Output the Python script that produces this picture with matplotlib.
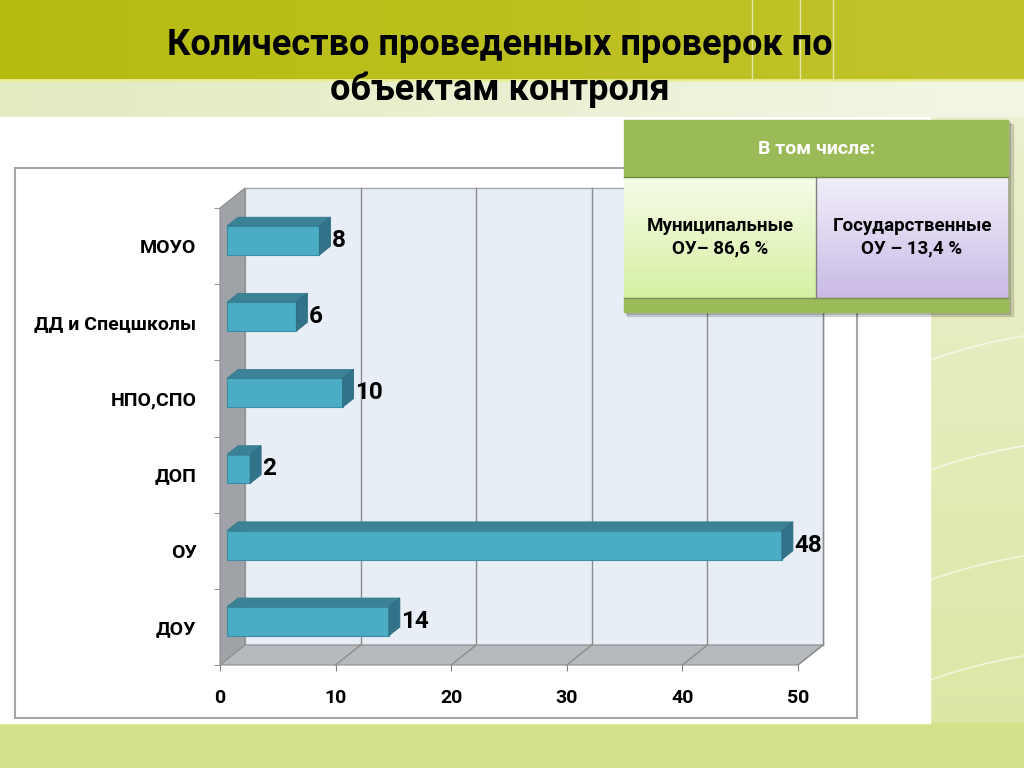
import numpy as np
import matplotlib.pyplot as plt
from matplotlib.patches import Polygon, Rectangle
from matplotlib.colors import to_rgb

# Данные
categories = ['ДОУ', 'ОУ', 'ДОП', 'НПО,СПО', 'ДД и Спецшколы', 'МОУО']
values = [14, 48, 2, 10, 6, 8]
x_ticks = [0, 10, 20, 30, 40, 50]
title_lines = ['Количество проведенных проверок по', 'объектам контроля']
table_header = 'В том числе:'
table_cells = ['Муниципальные\nОУ– 86,6 %', 'Государственные\nОУ – 13,4 %']

plt.rcParams['font.family'] = ['Roboto', 'DejaVu Sans']


def grad(ax, x0, y0, w, h, c1, c2, vertical=True, z=0):
    t = np.linspace(0, 1, 256)
    a, b = np.array(to_rgb(c1)), np.array(to_rgb(c2))
    img = a[None, :] * (1 - t[:, None]) + b[None, :] * t[:, None]
    img = img[:, None, :] if vertical else img[None, :, :]
    ax.imshow(img, extent=(x0, x0 + w, y0 + h, y0), origin='upper',
              aspect='auto', interpolation='bilinear', zorder=z)


fig = plt.figure(figsize=(10.24, 7.68), dpi=100)

# фон слайда
bg = fig.add_axes([0, 0, 1, 1], zorder=0)
grad(bg, 0, 0, 1024, 768, '#EEF1D6', '#DCE6A2')
grad(bg, 0, 0, 1024, 80, '#B6BC10', '#C2C42C', vertical=False, z=1)
grad(bg, 0, 80, 1024, 37, '#E3EAC0', '#F3F6E4', vertical=False, z=1)
bg.add_patch(Rectangle((0, 723), 1024, 45, color='#D5E18A', zorder=1))
for xl in [752, 800, 833]:
    bg.plot([xl, xl], [0, 80], color='white', lw=1, alpha=0.6, zorder=2)
bg.plot([0, 1024], [80, 80], color='#E9EE9A', lw=2, zorder=2)
for yy in [360, 470, 580, 680]:
    xs = np.linspace(930, 1024, 30)
    bg.plot(xs, yy - (xs - 930) * 0.35 + (xs - 930) ** 2 * 0.001,
            color='white', lw=1.2, alpha=0.6, zorder=2)
bg.add_patch(Rectangle((0, 117), 930, 606, color='white', zorder=3))
bg.add_patch(Rectangle((15, 168), 842, 550, fill=False, ec='#A6A6A6', lw=1.5, zorder=4))
bg.set_xlim(0, 1024)
bg.set_ylim(768, 0)
bg.axis('off')

# диаграмма (передняя плоскость)
ax = fig.add_axes([220 / 1024, 103 / 768, 578 / 1024, 457 / 768], zorder=1)
ax.set_xlim(0, 50)
ax.set_ylim(-0.5, 5.5)
ax.patch.set_visible(False)
for s in ax.spines.values():
    s.set_visible(False)

DX = 25 / 578 * 50
DY = 20 / 457 * 6
F, BD, H = 0.28, 0.44, 0.38
y_lo, y_hi = -0.5, 5.5

ax.add_patch(Polygon([(DX, y_lo + DY), (50 + DX, y_lo + DY), (50 + DX, y_hi + DY), (DX, y_hi + DY)],
                     closed=True, fc='#E8EEF6', ec='#A8A8A8', lw=1, clip_on=False, zorder=1))
ax.add_patch(Polygon([(0, y_lo), (DX, y_lo + DY), (DX, y_hi + DY), (0, y_hi)],
                     closed=True, fc='#9FA3A7', ec='#8C8C8C', lw=0.8, clip_on=False, zorder=2))
ax.add_patch(Polygon([(0, y_lo), (50, y_lo), (50 + DX, y_lo + DY), (DX, y_lo + DY)],
                     closed=True, fc='#B6BABE', ec='#8C8C8C', lw=0.8, clip_on=False, zorder=2))
for t in x_ticks[1:]:
    ax.plot([t + DX, t + DX], [y_lo + DY, y_hi + DY], color='#8C8C8C', lw=1, clip_on=False, zorder=1.5)
    ax.plot([t, t + DX], [y_lo, y_lo + DY], color='#8C8C8C', lw=1, clip_on=False, zorder=2.5)

# столбцы
x0 = F * DX
for i, v in enumerate(values):
    yc = i + F * DY
    y0 = yc - H / 2
    ax.barh(yc, v, height=H, left=x0, color='#4BACC6', edgecolor='#3A8DA3', lw=0.8, zorder=4)
    ax.add_patch(Polygon([(x0, y0 + H), (x0 + v, y0 + H), (x0 + v + BD * DX, y0 + H + BD * DY),
                          (x0 + BD * DX, y0 + H + BD * DY)],
                         closed=True, fc='#3B8297', ec='#357A8E', lw=0.6, clip_on=False, zorder=4))
    ax.add_patch(Polygon([(x0 + v, y0), (x0 + v, y0 + H), (x0 + v + BD * DX, y0 + H + BD * DY),
                          (x0 + v + BD * DX, y0 + BD * DY)],
                         closed=True, fc='#32738A', ec='#2E6B80', lw=0.6, clip_on=False, zorder=4))
    ax.text(x0 + v + BD * DX + 0.1, yc, str(v), ha='left', va='center', fontsize=17.5,
            fontweight='bold', color='black', zorder=5)

# оси
ax.set_yticks(range(len(categories)))
ax.set_yticklabels(categories, fontsize=14, fontweight='bold')
ax.set_yticks(np.arange(-0.5, 6, 1), minor=True)
ax.tick_params(axis='y', which='major', length=0, pad=17)
ax.tick_params(axis='y', which='minor', length=4, color='#808080', direction='out')
ax.set_xticks(x_ticks)
ax.set_xticklabels([str(t) for t in x_ticks], fontsize=14, fontweight='bold')
ax.tick_params(axis='x', length=4, color='#808080', direction='out', pad=13)

# заголовок и таблица поверх диаграммы
top = fig.add_axes([0, 0, 1, 1], zorder=2)
top.patch.set_visible(False)
top.text(500, 45, title_lines[0], ha='center', va='center', fontsize=26,
         fontweight='bold', color='black')
top.text(500, 90, title_lines[1], ha='center', va='center', fontsize=26,
         fontweight='bold', color='black')

top.add_patch(Rectangle((627, 124), 386, 192, color='black', alpha=0.12, zorder=5))
top.add_patch(Rectangle((626, 122), 384, 192, color='black', alpha=0.15, zorder=5))
top.add_patch(Rectangle((624, 120), 384, 57, color='#9BBB59', zorder=6))
grad(top, 624, 177, 192, 121, '#F5FCE8', '#D6F0A2', z=6)
grad(top, 816, 177, 192, 121, '#F2EFFA', '#C9BAE6', z=6)
top.add_patch(Rectangle((624, 298), 384, 14, color='#9BBB59', zorder=6))
top.plot([816, 816], [177, 298], color='#7F7F7F', lw=1, zorder=7)
top.plot([624, 1008], [177, 177], color='#6F8A3A', lw=1, zorder=7)
top.plot([624, 1008], [298, 298], color='#7F8F60', lw=1, zorder=7)
top.text(817, 149, table_header, ha='center', va='center', fontsize=14,
         fontweight='bold', color='white', zorder=8)
top.text(720, 237, table_cells[0], ha='center', va='center', fontsize=13.5,
         fontweight='bold', color='black', linespacing=1.3, zorder=8)
top.text(912, 237, table_cells[1], ha='center', va='center', fontsize=13.5,
         fontweight='bold', color='black', linespacing=1.3, zorder=8)
top.set_xlim(0, 1024)
top.set_ylim(768, 0)
top.axis('off')

plt.savefig('out.png', dpi=100)
